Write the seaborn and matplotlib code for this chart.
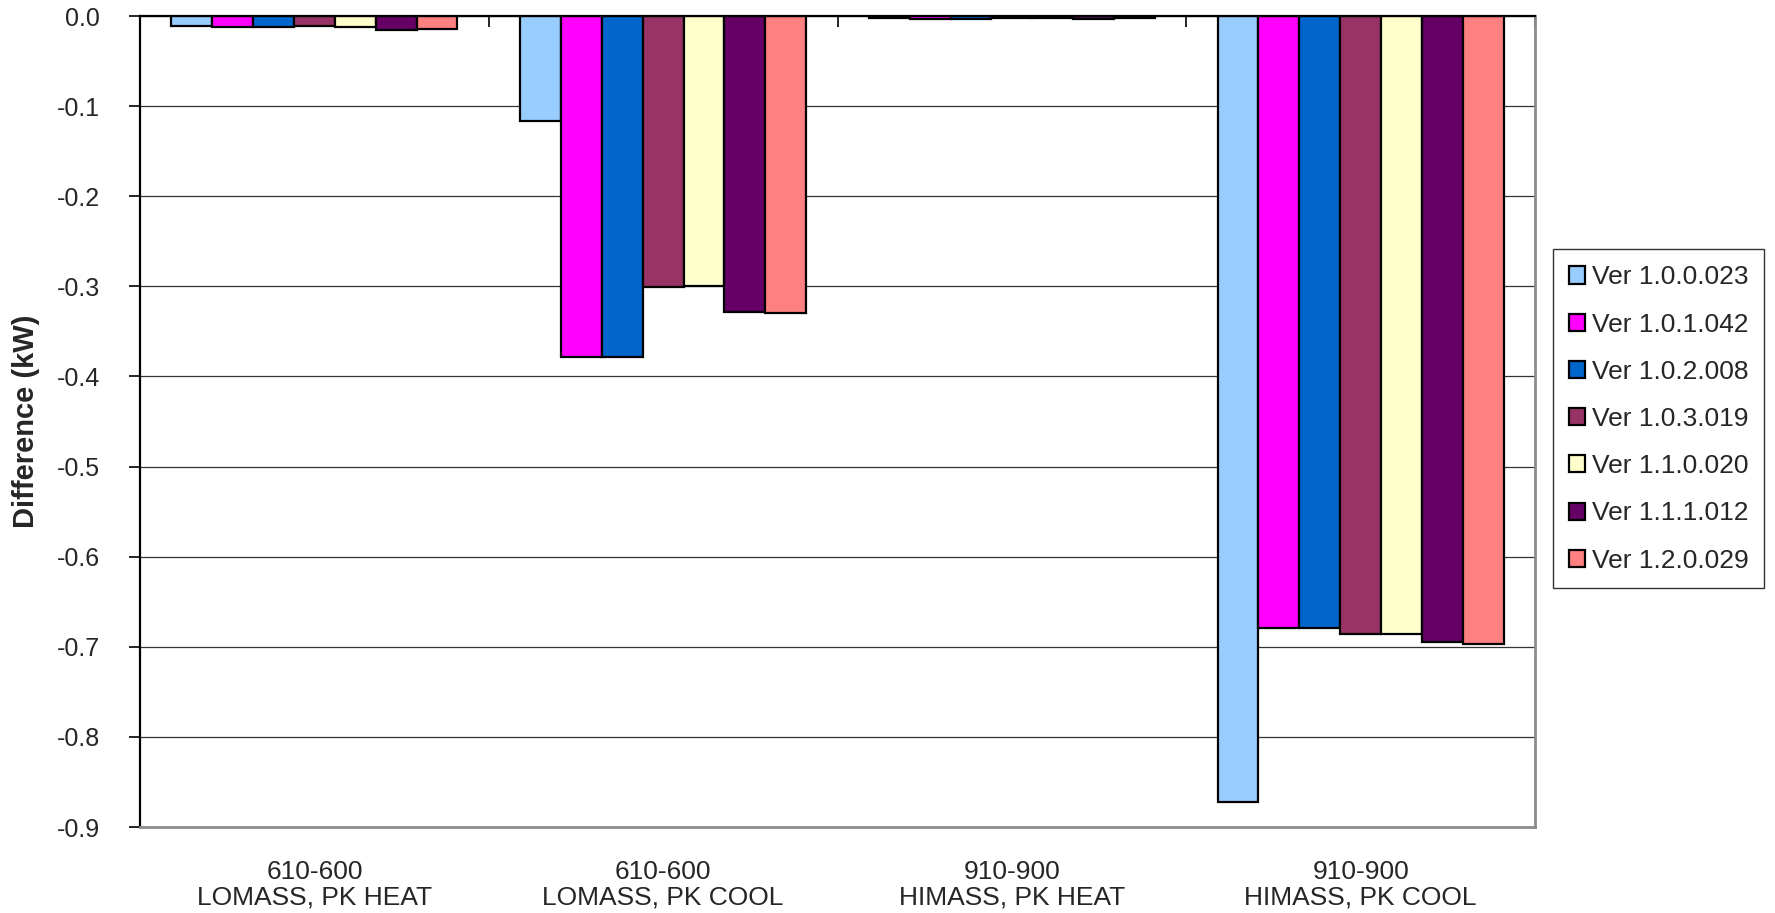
import numpy as np
import pandas as pd
import matplotlib
matplotlib.use("Agg")
import matplotlib.pyplot as plt
from matplotlib.ticker import FixedLocator, MultipleLocator, FormatStrFormatter
import seaborn as sns

categories = ["610-600\nLOMASS, PK HEAT", "610-600\nLOMASS, PK COOL",
              "910-900\nHIMASS, PK HEAT", "910-900\nHIMASS, PK COOL"]
versions = ["Ver 1.0.0.023", "Ver 1.0.1.042", "Ver 1.0.2.008", "Ver 1.0.3.019",
            "Ver 1.1.0.020", "Ver 1.1.1.012", "Ver 1.2.0.029"]
v_1000023 = [-0.011, -0.117, -0.002, -0.872]
v_1010042 = [-0.012, -0.378, -0.003, -0.679]
v_1020008 = [-0.012, -0.378, -0.003, -0.679]
v_1030019 = [-0.011, -0.301, -0.002, -0.686]
v_1100020 = [-0.012, -0.300, -0.002, -0.686]
v_1110012 = [-0.016, -0.329, -0.003, -0.695]
v_1200029 = [-0.014, -0.330, -0.002, -0.697]
series = [v_1000023, v_1010042, v_1020008, v_1030019, v_1100020, v_1110012, v_1200029]
colors = ["#99CCFF", "#FF00FF", "#0066CC", "#993366", "#FFFFCC", "#660066", "#FF8080"]

rows = []
for ver, vals in zip(versions, series):
    for cat, v in zip(categories, vals):
        rows.append({"cat": cat, "ver": ver, "val": v})
df = pd.DataFrame(rows)

sns.set_style("white")
plt.rcParams["font.family"] = ["Liberation Sans", "DejaVu Sans"]

fig = plt.figure(figsize=(17.75, 9.13), dpi=100)
ax = fig.add_axes([140/1775, 1-827/913, (1535-140)/1775, (827-16)/913])

sns.barplot(data=df, x="cat", y="val", hue="ver", hue_order=versions, order=categories,
            palette=colors, saturation=1, width=0.82, edgecolor="black", linewidth=1.6,
            errorbar=None, ax=ax, legend=True)

ax.set_ylim(-0.9, 0.0)
ax.set_xlim(-0.5, 3.5)
ax.yaxis.set_major_locator(MultipleLocator(0.1))
ax.yaxis.set_major_formatter(FormatStrFormatter("%.1f"))
ax.yaxis.grid(True, color="#333333", linewidth=0.9)
ax.set_axisbelow(True)

for s in ["left", "top"]:
    ax.spines[s].set_color("black")
    ax.spines[s].set_linewidth(1.6)
for s in ["right", "bottom"]:
    ax.spines[s].set_color("#8c8c8c")
    ax.spines[s].set_linewidth(2.0)

ax.tick_params(axis="y", which="major", left=True, length=8, width=1.2, color="black",
               pad=21, labelsize=18)
ax.tick_params(axis="x", which="major", bottom=False, length=0, pad=24, labelsize=19)
ax.xaxis.set_minor_locator(FixedLocator([0.5, 1.5, 2.5, 3.5]))
ax.tick_params(axis="x", which="minor", top=True, bottom=False, direction="in",
               length=8, width=1.2, color="black")
for t in ax.get_xticklabels():
    t.set_linespacing(1.05)

ax.set_xlabel("")
ax.set_ylabel("Difference (kW)", fontweight="bold", fontsize=21, labelpad=12)

handles, labels = ax.get_legend_handles_labels()
ax.legend_.remove()
leg = fig.legend(handles, labels, loc="center left", bbox_to_anchor=(1553/1775, 1-419/913),
                 fontsize=19, frameon=True, fancybox=False, edgecolor="black",
                 handlelength=0.62, handleheight=0.62, handletextpad=0.25,
                 labelspacing=0.88, borderpad=0.6, borderaxespad=0)
leg.get_frame().set_linewidth(1.0)
for h in leg.legend_handles:
    h.set_edgecolor("black")
    h.set_linewidth(1.6)

fig.savefig("out.png", dpi=100, facecolor="white")
